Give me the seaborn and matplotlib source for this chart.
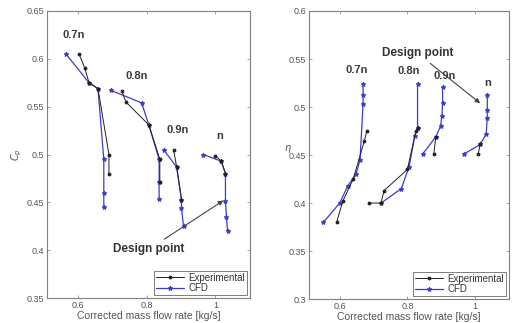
import matplotlib
matplotlib.use("Agg")
import matplotlib.pyplot as plt
import seaborn as sns

sns.set_theme(style="white")
plt.rcParams['font.family'] = ['Liberation Sans', 'DejaVu Sans']

# ---------------- data: left panel ----------------
L_exp_07_x = [0.603, 0.620, 0.632, 0.658, 0.690, 0.690]
L_exp_07_y = [0.605, 0.590, 0.575, 0.569, 0.500, 0.480]
L_cfd_07_x = [0.565, 0.632, 0.658, 0.675, 0.675, 0.675]
L_cfd_07_y = [0.605, 0.575, 0.569, 0.495, 0.460, 0.445]

L_exp_08_x = [0.728, 0.739, 0.806, 0.838, 0.838]
L_exp_08_y = [0.566, 0.555, 0.531, 0.495, 0.471]
L_cfd_08_x = [0.696, 0.785, 0.806, 0.836, 0.836, 0.836]
L_cfd_08_y = [0.567, 0.554, 0.531, 0.495, 0.471, 0.454]

L_exp_09_x = [0.878, 0.887, 0.901]
L_exp_09_y = [0.505, 0.487, 0.453]
L_cfd_09_x = [0.849, 0.887, 0.901, 0.901, 0.907]
L_cfd_09_y = [0.505, 0.487, 0.453, 0.444, 0.425]

L_exp_10_x = [1.000, 1.017, 1.029]
L_exp_10_y = [0.499, 0.493, 0.480]
L_cfd_10_x = [0.965, 1.017, 1.029, 1.029, 1.032, 1.035]
L_cfd_10_y = [0.500, 0.493, 0.480, 0.451, 0.435, 0.420]

# ---------------- data: right panel ----------------
R_exp_07_x = [0.591, 0.609, 0.640, 0.673, 0.680]
R_exp_07_y = [0.380, 0.402, 0.425, 0.465, 0.475]
R_cfd_07_x = [0.552, 0.600, 0.624, 0.648, 0.660, 0.669, 0.669, 0.669]
R_cfd_07_y = [0.380, 0.400, 0.418, 0.430, 0.445, 0.503, 0.512, 0.524]

R_exp_08_x = [0.687, 0.722, 0.731, 0.800, 0.825, 0.830]
R_exp_08_y = [0.400, 0.400, 0.413, 0.435, 0.475, 0.478]
R_cfd_08_x = [0.722, 0.782, 0.805, 0.822, 0.830, 0.830]
R_cfd_08_y = [0.400, 0.415, 0.438, 0.470, 0.478, 0.524]

R_exp_09_x = [0.878, 0.884]
R_exp_09_y = [0.451, 0.469]
R_cfd_09_x = [0.845, 0.884, 0.898, 0.902, 0.904, 0.904]
R_cfd_09_y = [0.451, 0.469, 0.480, 0.491, 0.504, 0.521]

R_exp_10_x = [1.009, 1.015]
R_exp_10_y = [0.451, 0.461]
R_cfd_10_x = [0.967, 1.015, 1.033, 1.036, 1.036, 1.036]
R_cfd_10_y = [0.451, 0.461, 0.472, 0.489, 0.497, 0.512]

speed_labels = ["0.7n", "0.8n", "0.9n", "n"]
L_label_pos = [(0.554, 0.625), (0.739, 0.582), (0.858, 0.526), (1.003, 0.519)]
R_label_pos = [(0.618, 0.539), (0.770, 0.537), (0.878, 0.532), (1.027, 0.525)]

x_label = "Corrected mass flow rate [kg/s]"
legend_labels = ["Experimental", "CFD"]

BLUE = "#3c3ccc"
BLACK = "#202020"
GRAY = "#808080"
TXT = "#555555"

fig = plt.figure(figsize=(5.12, 3.23), dpi=100)
axL = fig.add_axes([0.092, 0.077, 0.396, 0.889])
axR = fig.add_axes([0.604, 0.074, 0.390, 0.892])


def draw(ax, exp_sets, cfd_sets):
    for i, ((ex, ey), (cx, cy)) in enumerate(zip(exp_sets, cfd_sets)):
        sns.lineplot(x=cx, y=cy, ax=ax, sort=False, estimator=None, color=BLUE,
                     lw=0.9, marker="*", markersize=3.5, markeredgecolor=BLUE,
                     label=legend_labels[1] if i == 0 else None)
        sns.lineplot(x=ex, y=ey, ax=ax, sort=False, estimator=None, color=BLACK,
                     lw=0.7, marker="o", markersize=2, markeredgecolor=BLACK,
                     label=legend_labels[0] if i == 0 else None)


def style(ax, ylim, yticks, yticklabels):
    ax.set_xlim(0.51, 1.1)
    ax.set_ylim(*ylim)
    ax.set_xticks([0.6, 0.8, 1.0])
    ax.set_xticklabels(["0.6", "0.8", "1"])
    ax.set_yticks(yticks)
    ax.set_yticklabels(yticklabels)
    ax.tick_params(direction="in", length=2.5, width=0.5, colors=GRAY,
                   labelsize=6.5, labelcolor=TXT, top=True, right=True,
                   bottom=True, left=True, pad=2)
    for s in ax.spines.values():
        s.set_color(GRAY)
        s.set_linewidth(0.8)
    ax.set_xlabel(x_label, fontsize=7.5, color=TXT, labelpad=1)
    h, l = ax.get_legend_handles_labels()
    order = [l.index(legend_labels[0]), l.index(legend_labels[1])]
    leg = ax.legend([h[k] for k in order], [l[k] for k in order], loc="lower right",
                    fontsize=7, frameon=True, fancybox=False, edgecolor="#444444",
                    borderpad=0.2, labelspacing=0.05, handlelength=2.8,
                    borderaxespad=0.3, handletextpad=0.5)
    leg.get_frame().set_linewidth(0.6)
    for t in leg.get_texts():
        t.set_color("#333333")


draw(axL,
     [(L_exp_07_x, L_exp_07_y), (L_exp_08_x, L_exp_08_y), (L_exp_09_x, L_exp_09_y), (L_exp_10_x, L_exp_10_y)],
     [(L_cfd_07_x, L_cfd_07_y), (L_cfd_08_x, L_cfd_08_y), (L_cfd_09_x, L_cfd_09_y), (L_cfd_10_x, L_cfd_10_y)])
draw(axR,
     [(R_exp_07_x, R_exp_07_y), (R_exp_08_x, R_exp_08_y), (R_exp_09_x, R_exp_09_y), (R_exp_10_x, R_exp_10_y)],
     [(R_cfd_07_x, R_cfd_07_y), (R_cfd_08_x, R_cfd_08_y), (R_cfd_09_x, R_cfd_09_y), (R_cfd_10_x, R_cfd_10_y)])

style(axL, (0.35, 0.65), [0.35, 0.4, 0.45, 0.5, 0.55, 0.6, 0.65],
      ["0.35", "0.4", "0.45", "0.5", "0.55", "0.6", "0.65"])
style(axR, (0.3, 0.6), [0.3, 0.35, 0.4, 0.45, 0.5, 0.55, 0.6],
      ["0.3", "0.35", "0.4", "0.45", "0.5", "0.55", "0.6"])

for lab, (x, y) in zip(speed_labels, L_label_pos):
    axL.text(x, y, lab, fontsize=8, fontweight="bold", color="#3a3a3a", va="center")
for lab, (x, y) in zip(speed_labels, R_label_pos):
    axR.text(x, y, lab, fontsize=8, fontweight="bold", color="#3a3a3a", va="center")

axL.annotate("Design point", xy=(1.023, 0.452), xytext=(0.806, 0.401),
             fontsize=8.5, fontweight="bold", color="#333333", ha="center", va="center",
             arrowprops=dict(arrowstyle="-|>", color="#444444", lw=0.8,
                             shrinkA=1, shrinkB=0, mutation_scale=7))
axR.annotate("Design point", xy=(1.015, 0.504), xytext=(0.83, 0.556),
             fontsize=8.5, fontweight="bold", color="#333333", ha="center", va="center",
             arrowprops=dict(arrowstyle="-|>", color="#444444", lw=0.8,
                             shrinkA=1, shrinkB=0, mutation_scale=7))

axL.set_ylabel(r"$C_p$", fontsize=7, color=TXT, labelpad=2)
axR.set_ylabel(r"$\eta$", fontsize=7, color=TXT, labelpad=1, rotation=0)

fig.savefig("out.png", dpi=100)
